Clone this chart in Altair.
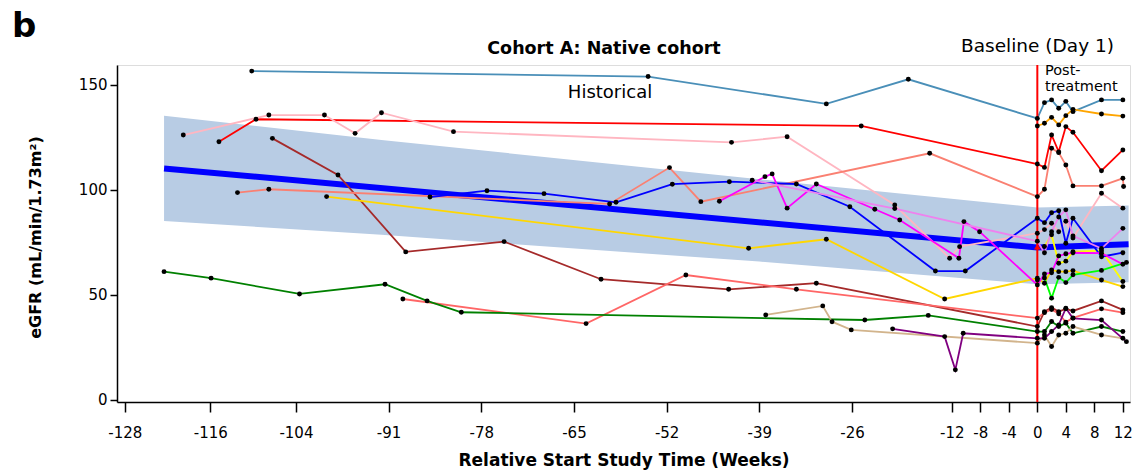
import altair as alt
import pandas as pd

# ---------------- data (weeks relative to baseline, eGFR values) ----------------
x_ticks = [-128, -116, -104, -91, -78, -65, -52, -39, -26, -12, -8, -4, 0, 4, 8, 12]
y_ticks = [0, 50, 100, 150]

teal_w = [-110.2, -54.6, -29.6, -18.1, 0, 1, 2, 3, 4, 5, 9, 12]
teal_v = [156.4, 153.8, 140.8, 152.5, 133.9, 141.4, 142.7, 138.7, 142, 137.1, 142.7, 142.7]

red_w = [-114.8, -109.6, -24.7, 0, 1, 2, 3, 4, 5, 9, 12]
red_v = [122.8, 133.5, 130.3, 112.2, 110.6, 126, 118, 130, 127.3, 109, 118.9]

pink_w = [-119.8, -107.8, -100, -95.7, -92, -81.9, -42.9, -35.1, -20, -12.3, -10.9, 0, 1, 2, 3, 4, 5, 9, 12]
pink_v = [126, 135.5, 135.5, 126.8, 136.6, 127.6, 122.5, 125.2, 92.7, 67.4, 72.9, 79.3, 81, 84, 80, 85, 77, 98.3, 91.2]

brown_w = [-107.3, -98.1, -88.6, -74.8, -61.2, -43.3, -31, 0, 1, 2, 3, 4, 5, 9, 12]
brown_v = [124.4, 107, 70.4, 75.3, 57.4, 52.6, 55.5, 34.9, 42, 43.9, 42, 43.3, 42.3, 47.1, 42.8]

salmon_w = [-112.2, -107.8, -60, -51.6, -47.2, -15.1, 0, 1, 2, 3, 4, 5, 9, 12, 12.1]
salmon_v = [98.6, 100.2, 93.2, 110.5, 94.3, 117.3, 96.7, 100.2, 119.7, 117.6, 111.7, 101.8, 101.8, 105.4, 101.5]

coral_w = [-89, -63.3, -49.3, -33.8, 0, 1, 2, 3, 4, 5, 9, 12]
coral_v = [48, 36.3, 59.4, 52.6, 38.9, 41.5, 43, 41, 37, 39, 43.3, 41.5]

gold_w = [-99.7, -40.5, -29.6, -13, 0, 1, 2, 3, 4, 5, 9, 12]
gold_v = [96.7, 72.1, 76.4, 48, 57.9, 55.5, 61.8, 61, 61, 61.5, 57, 53.9]

yellow_w = [1, 2, 3, 4, 5, 9, 12]
yellow_v = [73, 78.5, 65, 66, 70.5, 71, 56.3]

green_w = [-122.5, -115.9, -103.5, -91.5, -85.6, -80.8, -24.2, -15.3, 0, 1, 2, 3, 4, 5, 9, 12]
green_v = [61, 57.9, 50.4, 55, 47.1, 41.7, 38, 40.2, 32.5, 32.5, 37.3, 34.9, 36.5, 31.7, 34.9, 32.5]

lime_w = [0, 1, 2, 3, 4, 5, 9, 12.5]
lime_v = [57, 58, 48.4, 58.3, 55.8, 59.5, 61.6, 65.4]

blue_w = [-85.2, -77.2, -69.2, -59.1, -51.2, -43.2, -33.8, -26.3, -14.3, -10.1, 0, 1, 2, 3, 4, 5, 9, 12]
blue_v = [96.5, 99.5, 98.1, 94, 102.6, 103.8, 102.7, 91.9, 61.3, 61.3, 86.4, 84.3, 89, 90, 74.5, 86.4, 68.1, 70]

magenta_w = [-44.6, -38.2, -37.2, -35.1, -31, -22.8, -19.3, -11, -10.3, -8.1, 0, 1, 2, 3, 4, 5, 9, 12]
magenta_v = [94.5, 106.2, 107.5, 91.2, 102.7, 90.7, 85.6, 67.4, 84.8, 80, 54.7, 59.9, 60.5, 68.5, 69.5, 70, 69.8, 64.5]

violet_w = [-40, -20, 0, 1, 2, 3, 4, 5, 9, 12]
violet_v = [104.5, 91, 75.5, 70, 80, 87, 90.4, 78, 72, 81.6]

orange_w = [0, 1, 2, 3, 4, 5, 9, 12]
orange_v = [130.3, 131.6, 134.4, 130.8, 135.2, 138.2, 136, 135]

tan_w = [-38.1, -30.1, -28.8, -26.1, 0, 1, 2, 3, 4, 5, 9, 12]
tan_v = [40.4, 44.7, 37.2, 33.3, 27, 30.9, 25.4, 30.9, 31.7, 34.9, 30.9, 29.3]

purple_w = [-20.3, -13, -11.5, -10.4, 0, 1, 2, 3, 4, 5, 9, 12.5]
purple_v = [33.8, 30.1, 14.3, 31.7, 29.3, 29.3, 32.5, 35.7, 43.6, 38.8, 38, 27.7]

# mixed-model trend and its confidence band
trend_w = [-122.5, 0, 12.8]
trend_v = [110.1, 72.5, 74]
band_w = [-122.5, -92, -39, 0, 12.8]
band_lo = [85.1, 78.5, 65.8, 55, 56]
band_hi = [135.2, 123.6, 105, 91.5, 92.5]

series = [
    ("teal", "#4a8fb8", teal_w, teal_v),
    ("red", "#ff0000", red_w, red_v),
    ("pink", "#ffb6c1", pink_w, pink_v),
    ("brown", "#a52a2a", brown_w, brown_v),
    ("salmon", "#fa8072", salmon_w, salmon_v),
    ("coral", "#ff6666", coral_w, coral_v),
    ("gold", "#ffd700", gold_w, gold_v),
    ("yellow", "#ffff00", yellow_w, yellow_v),
    ("green", "#008000", green_w, green_v),
    ("lime", "#00ff00", lime_w, lime_v),
    ("blue", "#0000ff", blue_w, blue_v),
    ("magenta", "#ff00ff", magenta_w, magenta_v),
    ("violet", "#ee82ee", violet_w, violet_v),
    ("orange", "#ffa500", orange_w, orange_v),
    ("tan", "#d2b48c", tan_w, tan_v),
    ("purple", "#800080", purple_w, purple_v),
]

rows = []
for name, color, ws, vs in series:
    for i, (w, v) in enumerate(zip(ws, vs)):
        rows.append({"series": name, "week": w, "egfr": v, "ord": i})
df = pd.DataFrame(rows)
names = [s[0] for s in series]
colors = [s[1] for s in series]

trend_df = pd.DataFrame({"week": trend_w, "egfr": trend_v})
band_df = pd.DataFrame({"week": band_w, "lo": band_lo, "hi": band_hi})

FONT = "DejaVu Sans"
W, H = 1013, 337

xscale = alt.Scale(domain=[-129.1, 13.0], nice=False, zero=False)
yscale = alt.Scale(domain=[-1, 159.3], nice=False, zero=False)

xaxis = alt.Axis(values=x_ticks, title="Relative Start Study Time (Weeks)", grid=False,
                 labelExpr="datum.value < 0 ? '-' + abs(datum.value) : '' + datum.value",
                 tickSize=10, labelPadding=13, labelFontSize=15, labelFont=FONT,
                 labelColor="black", titleFont=FONT, titleFontSize=17, titleFontWeight="bold",
                 titleColor="black", titleX=506.5, titleY=63, titleBaseline="alphabetic",
                 domainColor="black", tickColor="black", domainWidth=1.5, tickWidth=1.5,
                 labelFlush=False, labelOverlap=False)
yaxis = alt.Axis(values=y_ticks, title="eGFR (mL/min/1.73m²)", grid=False,
                 tickSize=7, labelPadding=3, labelFontSize=15, labelFont=FONT,
                 labelColor="black", titleFont=FONT, titleFontSize=16, titleFontWeight="bold",
                 titleColor="black", titleX=-77, titleY=172, titleBaseline="alphabetic",
                 domainColor="black", tickColor="black", domainWidth=1.5, tickWidth=1.5)

X = alt.X("week:Q", scale=xscale, axis=xaxis)
Y = alt.Y("egfr:Q", scale=yscale, axis=yaxis)

band = alt.Chart(band_df).mark_area(color="#b8cce4", opacity=1).encode(
    x=X, y=alt.Y("lo:Q", scale=yscale, axis=yaxis), y2="hi:Q")

trend = alt.Chart(trend_df).mark_line(color="#0000ff", strokeWidth=6).encode(x=X, y=Y)

lines = alt.Chart(df).mark_line(strokeWidth=1.8).encode(
    x=X, y=Y,
    color=alt.Color("series:N", scale=alt.Scale(domain=names, range=colors), legend=None),
    detail="series:N", order="ord:Q")

rule = alt.Chart(pd.DataFrame({"week": [0]})).mark_rule(color="#ff0000", strokeWidth=2).encode(
    x=X, y=alt.value(0), y2=alt.value(H))

points = alt.Chart(df).mark_circle(color="black", size=24, opacity=1).encode(x=X, y=Y)

arrow = alt.Chart(pd.DataFrame({"week": [0], "egfr": [72.9]})).mark_point(
    shape="triangle-up", filled=True, color="#ff0000", size=45, opacity=1).encode(x=X, y=Y)

one = alt.Data(values=[{}])

def label(txt, x, y, size, weight="normal", align="left"):
    return alt.Chart(one).mark_text(text=txt, font=FONT, fontSize=size, fontWeight=weight,
                                    align=align, baseline="alphabetic", color="black").encode(
        x=alt.value(x), y=alt.value(y))

texts = [
    label("b", -105, -28, 34, "bold"),
    label("Cohort A: Native cohort", 487, -11, 17.5, "bold", "center"),
    label("Historical", 493, 33, 18, "normal", "center"),
    label("Baseline (Day 1)", 920.5, -13, 18.5, "normal", "center"),
    label("Post-", 928, 10, 14.5),
    label("treatment", 928, 25.7, 14.5),
]

chart = alt.layer(band, trend, lines, rule, points, arrow, *texts).properties(
    width=W, height=H,
    padding={"left": 117, "top": 65, "right": 5, "bottom": 69},
    autosize=alt.AutoSizeParams(type="none"),
).configure_view(stroke=None).configure(background="white")

chart.save("out.html", embed_options={"renderer": "svg", "actions": False})
